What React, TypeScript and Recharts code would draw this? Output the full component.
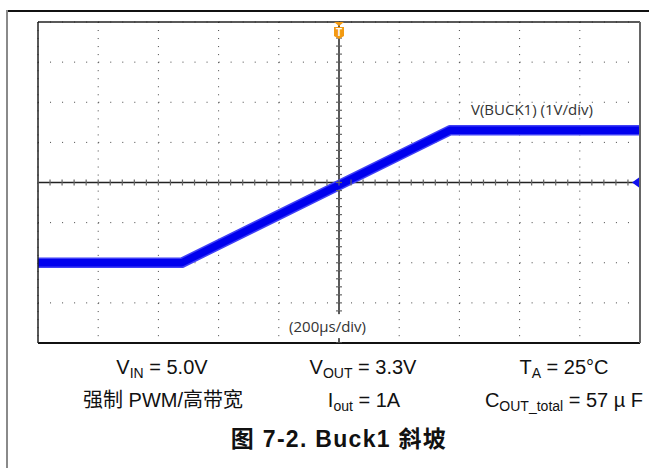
import React from "react";
import { ComposedChart, Line, Scatter, XAxis, YAxis, CartesianGrid, ReferenceLine } from "recharts";

// scope capture: 200us/div horizontally, 1V/div vertically, ground 2 div below centre
const timeUs = [-1000, -522, 368, 1000];
const buck1Volts = [0, 0, 3.3, 3.3];

const timeTicks = [-1000, -800, -600, -400, -200, 0, 200, 400, 600, 800, 1000];
const voltTicks = [-2, -1, 0, 1, 2, 3, 4, 5, 6];
const timeMinor = Array.from({ length: 51 }, (_, i) => -1000 + i * 40);
const voltMinor = Array.from({ length: 41 }, (_, i) => -2 + i * 0.2);

const traceLabel = "V(BUCK1) (1V/div)";
const timebaseLabel = "(200µs/div)";
const centerTime = 0;
const centerVolt = 2;

const trace = timeUs.map((t, i) => ({ t, v: buck1Volts[i] }));
const hTickData = timeMinor.map((t) => ({ t, v: centerVolt }));
const vTickData = voltMinor.map((v) => ({ t: centerTime, v }));
const notes = [
  { t: 641, v: 3.83, text: traceLabel, boxed: false },
  { t: -38, v: -1.58, text: timebaseLabel, boxed: true },
];

const W = 649;
const H = 468;
const noLabel = () => "";

const HTick = (p: any) => (
  <line x1={p.cx} x2={p.cx} y1={p.cy - 3} y2={p.cy + 3} stroke="#666" strokeWidth={1.2} />
);
const VTick = (p: any) => (
  <line x1={p.cx - 3} x2={p.cx + 3} y1={p.cy} y2={p.cy} stroke="#666" strokeWidth={1.2} />
);
const Note = (p: any) => (
  <g>
    {p.payload.boxed && <rect x={p.cx - 40} y={p.cy - 12} width={80} height={24} fill="#fff" />}
    <text
      x={p.cx}
      y={p.cy}
      textAnchor="middle"
      dominantBaseline="central"
      fontFamily="'Open Sans', sans-serif"
      fontSize={15}
      fill="#333"
    >
      {p.payload.text}
    </text>
  </g>
);
const Trigger = (p: any) => (
  <g>
    <polygon points={`${p.cx - 5},${p.cy} ${p.cx + 5},${p.cy} ${p.cx},${p.cy + 4}`} fill="#f39a12" />
    <path
      d={`M${p.cx - 5},${p.cy + 5} L${p.cx + 5},${p.cy + 5} L${p.cx + 5},${p.cy + 14} L${p.cx},${p.cy + 17} L${p.cx - 5},${p.cy + 14} Z`}
      fill="#f39a12"
    />
    <text x={p.cx} y={p.cy + 14} textAnchor="middle" fontFamily="Arial, sans-serif" fontWeight="bold" fontSize={10} fill="#fff">
      T
    </text>
  </g>
);
const RefArrow = (p: any) => (
  <polygon points={`${p.cx - 8},${p.cy} ${p.cx - 1},${p.cy - 5} ${p.cx - 1},${p.cy + 5}`} fill="#1010f0" />
);

const textBase: React.CSSProperties = {
  position: "absolute",
  transform: "translateX(-50%)",
  whiteSpace: "nowrap",
  fontFamily: "'Liberation Sans', Arial, 'Noto Sans CJK SC', sans-serif",
  fontSize: 20,
  color: "#111",
  lineHeight: "24px",
};
const sub: React.CSSProperties = { fontSize: 14, verticalAlign: "-4px" };

export default function App() {
  return (
    <div style={{ position: "absolute", left: 0, top: 0, width: W, height: H, background: "#fff", overflow: "hidden" }}>
      <div style={{ position: "absolute", left: 7, top: 10, width: W - 7, height: 1.5, background: "#111" }} />
      <div style={{ position: "absolute", left: 6, top: 10, width: 2, height: H - 10, background: "#8a8a8a" }} />
      <ComposedChart width={W} height={H} margin={{ top: 22, right: 9, bottom: 125, left: 38 }} style={{ position: "absolute", left: 0, top: 0 }}>
        <XAxis dataKey="t" type="number" domain={[-1000, 1000]} ticks={timeTicks} allowDataOverflow hide />
        <YAxis type="number" domain={[-2, 6]} ticks={voltTicks} allowDataOverflow hide />
        <XAxis xAxisId="top" orientation="top" mirror type="number" domain={[-1000, 1000]} ticks={timeMinor} interval={0}
          tickSize={3} tickFormatter={noLabel} stroke="#222" axisLine={{ stroke: "#222", strokeWidth: 1.5 }} />
        <XAxis xAxisId="bottom" orientation="bottom" mirror type="number" domain={[-1000, 1000]} ticks={timeMinor} interval={0}
          tickSize={3} tickFormatter={noLabel} stroke="#111" axisLine={{ stroke: "#111", strokeWidth: 2 }} />
        <YAxis yAxisId="left" orientation="left" mirror type="number" domain={[-2, 6]} ticks={voltMinor} interval={0}
          tickSize={3} tickFormatter={noLabel} stroke="#222" axisLine={{ stroke: "#222", strokeWidth: 1.5 }} />
        <YAxis yAxisId="right" orientation="right" mirror type="number" domain={[-2, 6]} ticks={voltMinor} interval={0}
          tickSize={3} tickFormatter={noLabel} stroke="#666" axisLine={{ stroke: "#666", strokeWidth: 2 }} />
        <CartesianGrid vertical={false} stroke="#444" strokeDasharray="1 11.04" />
        <CartesianGrid horizontal={false} stroke="#444" strokeDasharray="1 7.03" />
        <ReferenceLine x={centerTime} stroke="#222" strokeWidth={1.5} />
        <ReferenceLine y={centerVolt} stroke="#222" strokeWidth={1.5} />
        <Scatter data={hTickData} dataKey="v" shape={HTick} isAnimationActive={false} legendType="none" />
        <Scatter data={vTickData} dataKey="v" shape={VTick} isAnimationActive={false} legendType="none" />
        <Line data={trace} dataKey="v" stroke="#4040f6" strokeWidth={10.5} dot={false} strokeLinejoin="round" isAnimationActive={false} />
        <Line data={trace} dataKey="v" stroke="#0000ee" strokeWidth={7.5} dot={false} strokeLinejoin="round" isAnimationActive={false} />
        <Scatter data={notes} dataKey="v" shape={Note} isAnimationActive={false} legendType="none" />
        <Scatter data={[{ t: centerTime, v: 6 }]} dataKey="v" shape={Trigger} isAnimationActive={false} legendType="none" />
        <Scatter data={[{ t: 1000, v: centerVolt }]} dataKey="v" shape={RefArrow} isAnimationActive={false} legendType="none" />
      </ComposedChart>

      <div style={{ ...textBase, left: 162, top: 355 }}>V<span style={sub}>IN</span> = 5.0V</div>
      <div style={{ ...textBase, left: 363, top: 355 }}>V<span style={sub}>OUT</span> = 3.3V</div>
      <div style={{ ...textBase, left: 564, top: 355 }}>T<span style={sub}>A</span> = 25°C</div>
      <div style={{ ...textBase, left: 163, top: 388 }}>强制 PWM/高带宽</div>
      <div style={{ ...textBase, left: 364, top: 388 }}>I<span style={sub}>out</span> = 1A</div>
      <div style={{ ...textBase, left: 564, top: 388 }}>C<span style={sub}>OUT_total</span> = 57 µ F</div>
      <div style={{ ...textBase, left: 339, top: 427, fontWeight: "bold", fontSize: 23, letterSpacing: 1.3 }}>图 7-2. Buck1 斜坡</div>
    </div>
  );
}
